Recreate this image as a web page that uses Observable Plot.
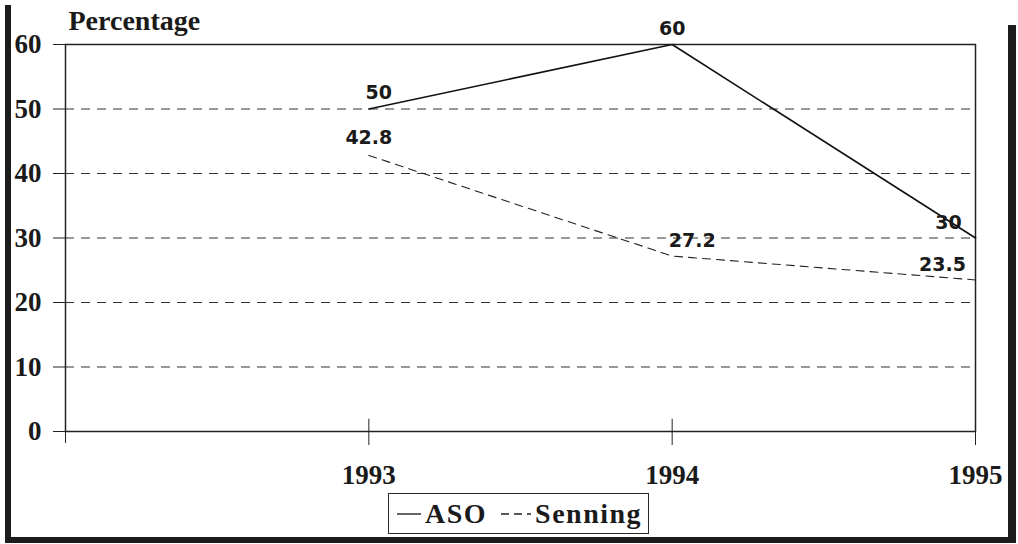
<!DOCTYPE html>
<html>
<head>
<meta charset="utf-8">
<script src="https://cdn.jsdelivr.net/npm/d3@7"></script>
<script src="https://cdn.jsdelivr.net/npm/@observablehq/plot@0.6"></script>
<style>
  html, body { margin: 0; padding: 0; background: #fff; }
  #page { position: relative; width: 1018px; height: 544px; overflow: hidden; background: #fff; }
  #chart { position: absolute; left: 0; top: 0; }
  .bar { position: absolute; background: #1c1c1c; }
  #legend {
    position: absolute; left: 388px; top: 493px; width: 261px; height: 41px;
    box-sizing: border-box; border: 1.5px solid #2a2a2a; background: #fff;
    font-family: "Liberation Serif", serif; font-weight: bold; font-size: 28px; color: #1a1a1a;
    letter-spacing: 1.5px;
    display: flex; align-items: center; padding-left: 8px; white-space: nowrap;
  }
  #legend svg { display: block; }
  #legend .item { display: flex; align-items: center; }
</style>
</head>
<body>
<div id="page">
  <div id="chart"></div>
  <div class="bar" style="left:5px; top:5px; width:6px; height:538px;"></div>
  <div class="bar" style="left:1008px; top:25px; width:8px; height:518px;"></div>
  <div class="bar" style="left:5px; top:537px; width:1011px; height:6px;"></div>
  <div id="legend"></div>
</div>
<script>
// Percentages per year for the two operations
const years = [1993, 1994, 1995];
const asoValues = [50, 60, 30];
const senningValues = [42.8, 27.2, 23.5];
const yTicks = [0, 10, 20, 30, 40, 50, 60];
const gridValues = [10, 20, 30, 40, 50];
const seriesNames = ["ASO", "Senning"];

const rows = [
  ...years.map((year, i) => ({series: seriesNames[0], year, value: asoValues[i]})),
  ...years.map((year, i) => ({series: seriesNames[1], year, value: senningValues[i]}))
];
const aso = rows.filter(d => d.series === "ASO");
const senning = rows.filter(d => d.series === "Senning");

// Where each value label sits relative to its point
function labelDx(d) {
  if (d.year === 1995) return d.series === "ASO" ? -27 : -33;
  if (d.year === 1994 && d.series === "Senning") return 20;
  if (d.year === 1993 && d.series === "ASO") return 10;
  return 0;
}
function labelDy(d) {
  if (d.series === "ASO") return d.year === 1995 ? -15 : -16;
  return d.year === 1993 ? -18 : -15;
}

const serif = "Liberation Serif, Times New Roman, serif";
const sans = "DejaVu Sans, Verdana, sans-serif";
const ink = "#1a1a1a";

// One text mark per value label, each with its own offset
const valueLabels = rows.map(d => Plot.text([d], {
  x: "year", y: "value", text: r => String(r.value),
  dx: labelDx(d), dy: labelDy(d),
  fontFamily: sans, fontWeight: "bold", fontSize: 19, fill: ink
}));

const chart = Plot.plot({
  width: 1018,
  height: 490,
  marginLeft: 65,
  marginRight: 43,
  marginTop: 44,
  marginBottom: 59,
  style: {fontFamily: serif, fontWeight: "bold", fontSize: "26px", color: ink, background: "transparent"},
  x: {type: "linear", domain: [1992, 1995]},
  y: {domain: [0, 60]},
  marks: [
    Plot.ruleY(gridValues, {x1: 1992, x2: 1995, stroke: "#333", strokeWidth: 1.1, strokeDasharray: "9,7", insetRight: 5}),
    Plot.frame({stroke: "#222", strokeWidth: 1.5}),
    Plot.axisY({ticks: yTicks, tickSize: 12, tickPadding: 12, label: null,
      fontSize: 27, fontFamily: serif, fontWeight: "bold", stroke: "#222"}),
    Plot.axisX({ticks: years, tickFormat: d => String(d), tickSize: 14, tickPadding: 19, label: null,
      fontSize: 27, fontFamily: serif, fontWeight: "bold", stroke: "#222", letterSpacing: "1px"}),
    Plot.axisX({ticks: [1992], tickFormat: () => "", tickSize: 12, label: null, stroke: "#222"}),
    Plot.ruleX([1993, 1994], {y1: 0, y2: 1.9, stroke: "#222"}),
    Plot.line(aso, {x: "year", y: "value", stroke: "#111", strokeWidth: 1.6}),
    Plot.line(senning, {x: "year", y: "value", stroke: "#222", strokeWidth: 1.1, strokeDasharray: "8,6"}),
    ...valueLabels,
    Plot.text(["Percentage"], {frameAnchor: "top-left", dx: 3, dy: -15, textAnchor: "start", lineAnchor: "bottom",
      fontFamily: serif, fontWeight: "bold", fontSize: 28, fill: ink, letterSpacing: "2px"})
  ]
});
document.getElementById("chart").appendChild(chart);

// Legend below the plot
const legend = document.getElementById("legend");
function swatch(dash) {
  const w = dash ? 30 : 24;
  const s = d3.create("svg").attr("width", w).attr("height", 12);
  s.append("line").attr("x1", 0).attr("x2", w).attr("y1", 6).attr("y2", 6)
    .attr("stroke", "#222").attr("stroke-width", 1.4)
    .attr("stroke-dasharray", dash ? "8,5" : null);
  return s.node();
}
seriesNames.forEach((name, i) => {
  const item = document.createElement("span");
  item.className = "item";
  if (i > 0) item.style.marginLeft = "14px";
  item.appendChild(swatch(i === 1));
  const label = document.createElement("span");
  label.textContent = name;
  label.style.marginLeft = "4px";
  item.appendChild(label);
  legend.appendChild(item);
});
</script>
</body>
</html>
